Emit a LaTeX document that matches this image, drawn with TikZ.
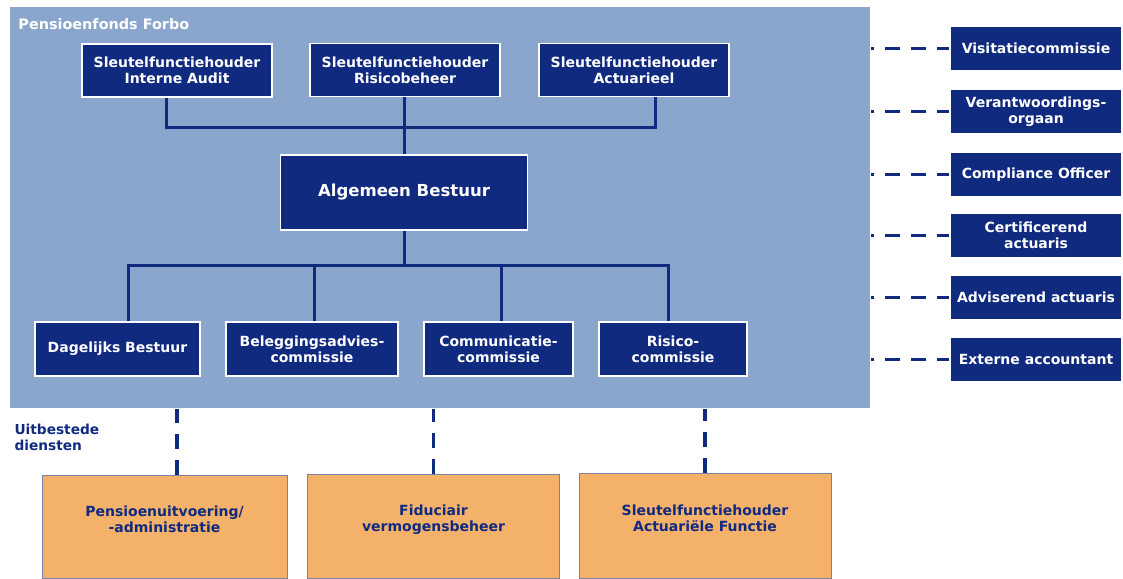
\documentclass[tikz,border=0pt]{standalone}
\usepackage{fontspec}
\setmainfont{DejaVu Sans}

\definecolor{forbonavy}{RGB}{16,42,128}
\definecolor{forbopanel}{RGB}{138,166,204}
\definecolor{forbooranje}{RGB}{243,177,105}
\definecolor{forborand}{RGB}{120,130,165}

\tikzset{every picture/.style={line width=0.75pt}}
\tikzset{
  bluebox/.style={draw=white, line width=1pt, fill=forbonavy, text=white, align=center, inner sep=0pt, font=\fontsize{10.5}{11.8}\selectfont\bfseries},
  orangebox/.style={draw=forborand, line width=0.75pt, fill=forbooranje, text=forbonavy, align=center, inner sep=0pt, text depth=11.5pt, font=\fontsize{10.5}{11.8}\selectfont\bfseries},
  orgline/.style={draw=forbonavy, line width=2.25pt},
  dashline/.style={draw=forbonavy, line width=2.4pt, dash pattern=on 11.25pt off 8.25pt}
}

\begin{document}
\begin{tikzpicture}[x=0.75pt,y=0.75pt,yscale=-1,xscale=1]
\useasboundingbox (0,0) rectangle (1123,578);

%Shape: Rectangle (pension fund panel)
\node [fill=forbopanel, inner sep=0pt, minimum width=645pt, minimum height=300.75pt] (fonds) at (440,207.5) {};
% Text Node
\node [anchor=west, inner sep=0.75pt, text=white, font=\fontsize{10.8}{13}\selectfont\bfseries] (fondsnaam) at (17,24) {Pensioenfonds Forbo};

%Key function holders
\node [bluebox, minimum width=142.5pt, minimum height=39.75pt] (audit) at (177,70.5) {Sleutelfunctiehouder\\Interne Audit};
\node [bluebox, minimum width=142.5pt, minimum height=39.75pt] (risico) at (405,70) {Sleutelfunctiehouder\\Risicobeheer};
\node [bluebox, minimum width=142.5pt, minimum height=39.75pt] (actuarieel) at (634,70) {Sleutelfunctiehouder\\Actuarieel};

%Board
\node [bluebox, minimum width=185.25pt, minimum height=56.25pt, font=\fontsize{12.4}{14}\selectfont\bfseries] (bestuur) at (404,192.5) {Algemeen Bestuur};

%Committees
\node [bluebox, minimum width=123.75pt, minimum height=40.5pt] (dagelijks) at (117.5,349) {Dagelijks Bestuur};
\node [bluebox, minimum width=129pt, minimum height=40.5pt] (beleggingen) at (312,349) {Beleggingsadvies-\\commissie};
\node [bluebox, minimum width=111.75pt, minimum height=40.5pt] (communicatie) at (498.5,349) {Communicatie-\\commissie};
\node [bluebox, minimum width=111pt, minimum height=40.5pt] (risicocie) at (673,349) {Risico-\\commissie};

%Organs outside the panel
\node [bluebox, minimum width=129pt, minimum height=33.75pt] (visitatie) at (1036,48.5) {Visitatiecommissie};
\node [bluebox, minimum width=129pt, minimum height=33.75pt] (vo) at (1036,111.5) {Verantwoordings-\\orgaan};
\node [bluebox, minimum width=129pt, minimum height=33.75pt] (compliance) at (1036,174.5) {Compliance Officer};
\node [bluebox, minimum width=129pt, minimum height=33.75pt] (certact) at (1036,235.5) {Certificerend\\actuaris};
\node [bluebox, minimum width=129pt, minimum height=33.75pt] (advact) at (1036,297.5) {Adviserend actuaris};
\node [bluebox, minimum width=129pt, minimum height=33.75pt] (accountant) at (1036,359.5) {Externe accountant};

% Text Node
\node [anchor=north west, inner sep=0.75pt, align=left, text=forbonavy, font=\fontsize{10.3}{11.4}\selectfont\bfseries] (uitbesteed) at (13,423) {Uitbestede\\diensten};

%Outsourced services
\node [orangebox, minimum width=183.75pt, minimum height=77.25pt] (uitvoering) at (164.5,526.5) {Pensioenuitvoering/\\-administratie};
\node [orangebox, minimum width=189pt, minimum height=78pt] (fiduciair) at (433.5,526) {Fiduciair\\vermogensbeheer};
\node [orangebox, minimum width=189pt, minimum height=78.75pt] (afh) at (705,525.5) {Sleutelfunctiehouder\\Actuariële Functie};

%Straight Lines
\coordinate (topbus) at (404,127);
\coordinate (lowbus) at (404,265);
\draw [orgline] ([xshift=-8.25pt]audit.south) |- (topbus) -| ([xshift=15.75pt]actuarieel.south);
\draw [orgline] (risico.south -| bestuur.north) -- (bestuur.north);
\draw [orgline] (bestuur.south) -- (lowbus);
\draw [orgline] ([xshift=7.9pt]dagelijks.north) |- (lowbus) -| ([xshift=-3.75pt]risicocie.north);
\draw [orgline] ([xshift=1.5pt]beleggingen.north) -- ([xshift=1.5pt]beleggingen.north |- lowbus);
\draw [orgline] ([xshift=2.6pt]communicatie.north) -- ([xshift=2.6pt]communicatie.north |- lowbus);

%Dashed Lines
\foreach \orgaan in {visitatie,vo,compliance,certact,advact,accountant}
  \draw [dashline, dash phase=2.25pt] (\orgaan.west) -- (\orgaan.west -| fonds.east);
\draw [dashline] ([xshift=9.4pt]uitvoering.north) -- ([xshift=9.4pt]uitvoering.north |- fonds.south);
\draw [dashline] (fiduciair.north) -- (fiduciair.north |- fonds.south);
\draw [dashline] (afh.north) -- (afh.north |- fonds.south);

\end{tikzpicture}
\end{document}
